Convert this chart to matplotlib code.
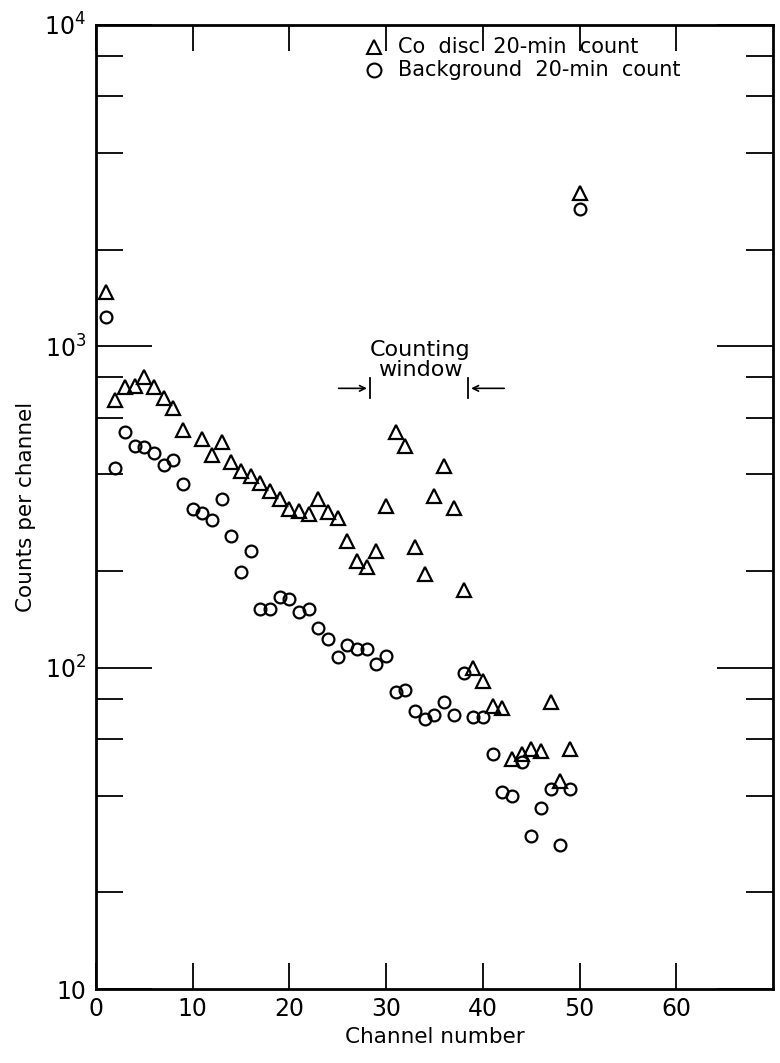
import numpy as np
import matplotlib
matplotlib.use('Agg')
import matplotlib.pyplot as plt
from matplotlib.ticker import FixedLocator, NullFormatter, FixedFormatter

# channel numbers and counts
channel = np.arange(1, 51)
co_disc = [1480, 680, 745, 755, 800, 745, 690, 645, 550, np.nan,
           515, 460, 505, 435, 410, 395, 375, 355, 335, 312,
           308, 300, 336, 306, 292, 247, 215, 205, 231, 318,
           543, 491, 237, 195, 342, 424, 314, 175, 100, 91,
           76, 75, 52, 54, 56, 55, 78, 44.5, 56, 3000]
background = [1235, 419, 543, 491, 486, 467, 427, 444, 372, 312,
              303, 288, 334, 256, 198, 230, 152, 152, 166, 163,
              149, 152, 133, 123, 108, 118, 114, 114, 103, 109,
              84, 85, 73.5, 69, 71, 78, 71, 96, 70, 70,
              54, 41, 40, 51, 30, 36.6, 42, 28, 42, 2670]
xticks = [0, 10, 20, 30, 40, 50, 60]
yticks = [10, 100, 1000, 10000]
ytick_labels = ['10', r'$10^2$', r'$10^3$', r'$10^4$']
window = (28.3, 38.5)

fig = plt.figure(figsize=(7.8, 10.63), dpi=100)
ax = fig.add_axes([0.1231, 0.0696, 0.8679, 0.9069])

ax.plot(channel, co_disc, ls='none', marker='^', ms=9.5, mfc='none', mec='black', mew=1.6)
ax.plot(channel, background, ls='none', marker='o', ms=8.5, mfc='none', mec='black', mew=1.6)

ax.set_yscale('log')
ax.set_xlim(0, 70)
ax.set_ylim(10, 10000)

ax.xaxis.set_major_locator(FixedLocator(xticks))
ax.yaxis.set_major_locator(FixedLocator(yticks))
ax.yaxis.set_major_formatter(FixedFormatter(ytick_labels))
minor = [m * 10 ** d for d in range(1, 4) for m in (2, 4, 6, 8)]
ax.yaxis.set_minor_locator(FixedLocator(minor))
ax.yaxis.set_minor_formatter(NullFormatter())
ax.xaxis.set_minor_locator(FixedLocator([]))

ax.tick_params(axis='x', which='major', direction='in', top=True, length=19, width=1.3,
               labelsize=17, pad=6)
ax.tick_params(axis='y', which='major', direction='in', right=True, length=40, width=1.3,
               labelsize=17, pad=7)
ax.tick_params(axis='y', which='minor', direction='in', right=True, length=19.5, width=1.3)
for s in ax.spines.values():
    s.set_linewidth(2)

ax.set_xlabel('Channel number', fontsize=15.5, labelpad=4)
ax.set_ylabel('Counts per channel', fontsize=15.5, labelpad=6)

# legend drawn by hand
ax.plot([0.4106], [0.977], transform=ax.transAxes, marker='^', ms=10.5, mfc='none',
        mec='black', mew=1.5, ls='none', clip_on=False)
ax.plot([0.4106], [0.953], transform=ax.transAxes, marker='o', ms=10, mfc='none',
        mec='black', mew=1.5, ls='none', clip_on=False)
ax.text(0.446, 0.977, 'Co  disc  20-min  count', transform=ax.transAxes,
        fontsize=15, va='center', ha='left')
ax.text(0.446, 0.953, 'Background  20-min  count', transform=ax.transAxes,
        fontsize=15, va='center', ha='left')

# counting window
ax.text(33.5, 905, 'Counting\nwindow', ha='center', va='center', fontsize=16, linespacing=1.0)
ax.annotate('', xy=(window[0], 740), xytext=(24.8, 740),
            arrowprops=dict(arrowstyle='->', lw=1.2, color='black'))
ax.annotate('', xy=(window[1], 740), xytext=(42.5, 740),
            arrowprops=dict(arrowstyle='->', lw=1.2, color='black'))
ax.plot([window[0], window[0]], [690, 797], color='black', lw=1.3)
ax.plot([window[1], window[1]], [690, 797], color='black', lw=1.3)

fig.savefig('out.png', dpi=100)
